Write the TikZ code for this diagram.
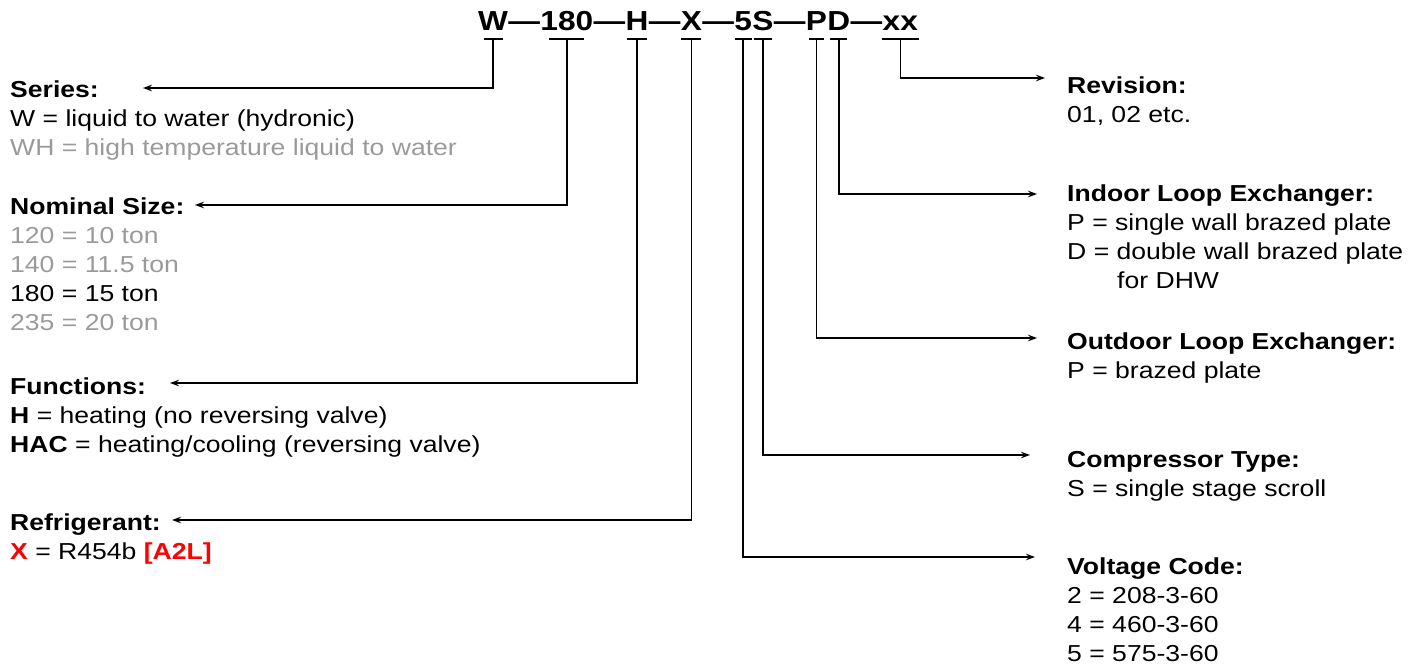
\documentclass[tikz,border=0pt]{standalone}
\usepackage{fontspec}
\setmainfont{Liberation Sans}[FakeStretch=1.15]
\usepackage{xcolor}
\usetikzlibrary{arrows.meta}
\definecolor{lgray}{HTML}{9A9A9A}
\definecolor{cred}{HTML}{FF0000}
\newcommand{\gr}[1]{\textcolor{lgray}{#1}}
\begin{document}
\begin{tikzpicture}[x=1pt,y=-1pt,
  code/.style={anchor=base west, inner sep=0pt, font=\fontsize{27.5}{32}\selectfont\bfseries},
  blk/.style={anchor=base west, inner sep=0pt, font=\fontsize{23.1}{29}\selectfont},
  tick/.style={line width=1.6pt},
  conn/.style={line width=1.6pt, -{Stealth[length=9pt,width=6.5pt]}}
]
\useasboundingbox (0,0) rectangle (1421,668);
% code string
\node[code] (cW) at (478,31) {W};
\node[code] (d1) at (cW.base east) {—};
\node[code] (c180) at (d1.base east) {180};
\node[code] (d2) at (c180.base east) {—};
\node[code] (cH) at (d2.base east) {H};
\node[code] (d3) at (cH.base east) {—};
\node[code] (cX) at (d3.base east) {X};
\node[code] (d4) at (cX.base east) {—};
\node[code] (c5) at (d4.base east) {5};
\node[code] (cS) at (c5.base east) {S};
\node[code] (d5) at (cS.base east) {—};
\node[code] (cP) at (d5.base east) {P};
\node[code] (cD) at (cP.base east) {D};
\node[code] (d6) at (cD.base east) {—};
\node[code] (cxx) at (d6.base east) {xx};
% ticks
\foreach \n/\w in {cW/9.5, c180/17.5, cH/10, cX/10, c5/8.5, cS/9, cP/7.5, cD/8.5, cxx/18.5}
  \draw[tick] ([xshift=-\w pt, yshift=-8pt]\n.base) -- ([xshift=\w pt, yshift=-8pt]\n.base);
% left blocks
\node[blk] (ser) at (10,97.5) {\begin{tabular}[t]{@{}l@{}}\textbf{Series:}\\ W = liquid to water (hydronic)\\ \gr{WH = high temperature liquid to water}\end{tabular}};
\node[blk] (nom) at (10,214.5) {\begin{tabular}[t]{@{}l@{}}\textbf{Nominal Size:}\\ \gr{120 = 10 ton}\\ \gr{140 = 11.5 ton}\\ 180 = 15 ton\\ \gr{235 = 20 ton}\end{tabular}};
\node[blk] (fun) at (10,394) {\begin{tabular}[t]{@{}l@{}}\textbf{Functions:}\\ \textbf{H} = heating (no reversing valve)\\ \textbf{HAC} = heating/cooling (reversing valve)\end{tabular}};
\node[blk] (ref) at (10,530) {\begin{tabular}[t]{@{}l@{}}\textbf{Refrigerant:}\\ \textcolor{cred}{\textbf{X}} = R454b \textcolor{cred}{\textbf{[A2L]}}\end{tabular}};
% right blocks
\node[blk] (rev) at (1067,93.5) {\begin{tabular}[t]{@{}l@{}}\textbf{Revision:}\\ 01, 02 etc.\end{tabular}};
\node[blk] (ind) at (1067,201.5) {\begin{tabular}[t]{@{}l@{}}\textbf{Indoor Loop Exchanger:}\\ P = single wall brazed plate\\ D = double wall brazed plate\\ \hspace*{50pt}for DHW\end{tabular}};
\node[blk] (out) at (1067,349.5) {\begin{tabular}[t]{@{}l@{}}\textbf{Outdoor Loop Exchanger:}\\ P = brazed plate\end{tabular}};
\node[blk] (com) at (1067,467.5) {\begin{tabular}[t]{@{}l@{}}\textbf{Compressor Type:}\\ S = single stage scroll\end{tabular}};
\node[blk] (vol) at (1067,574.5) {\begin{tabular}[t]{@{}l@{}}\textbf{Voltage Code:}\\ 2 = 208-3-60\\ 4 = 460-3-60\\ 5 = 575-3-60\end{tabular}};
% arrow end coordinates
\coordinate (aSer) at (143,88);
\coordinate (aNom) at (195,205);
\coordinate (aFun) at (170,383);
\coordinate (aRef) at (172,520);
\coordinate (aRev) at (1045,78);
\coordinate (aInd) at (1037,194);
\coordinate (aOut) at (1037,338);
\coordinate (aCom) at (1030,455);
\coordinate (aVol) at (1035,557);
% connectors
\draw[conn] ([yshift=-8pt]cW.base) |- (aSer);
\draw[conn] ([yshift=-8pt]c180.base) |- (aNom);
\draw[conn] ([yshift=-8pt]cH.base) |- (aFun);
\draw[conn] ([yshift=-8pt]cX.base) |- (aRef);
\draw[conn] ([yshift=-8pt]c5.base) |- (aVol);
\draw[conn] ([yshift=-8pt]cS.base) |- (aCom);
\draw[conn] ([yshift=-8pt]cP.base) |- (aOut);
\draw[conn] ([yshift=-8pt]cD.base) |- (aInd);
\draw[conn] ([yshift=-8pt]cxx.base) |- (aRev);
\end{tikzpicture}
\end{document}
